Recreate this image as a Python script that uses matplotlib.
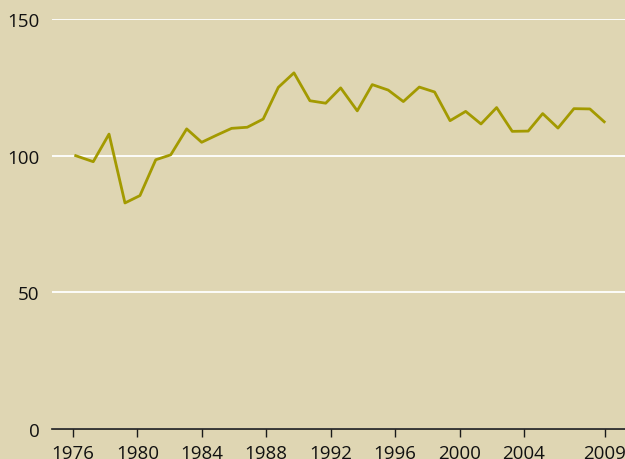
import matplotlib.pyplot as plt

# index values (35 points, 1976-2009)
years = [1976.17, 1977.26, 1978.24, 1979.23, 1980.16, 1981.14, 1982.07,
         1983.06, 1983.99, 1984.92, 1985.85, 1986.82, 1987.81, 1988.75,
         1989.72, 1990.71, 1991.69, 1992.62, 1993.65, 1994.58, 1995.57,
         1996.51, 1997.50, 1998.45, 1999.41, 2000.38, 2001.33, 2002.30,
         2003.27, 2004.26, 2005.16, 2006.11, 2007.10, 2008.09, 2008.98]
values = [100.0, 97.8, 107.9, 82.7, 85.4, 98.5, 100.3, 109.8, 104.9, 107.5,
          110.0, 110.4, 113.4, 125.0, 130.3, 120.1, 119.2, 124.8, 116.4,
          126.0, 124.0, 119.8, 125.1, 123.3, 112.8, 116.2, 111.6, 117.6,
          108.9, 109.0, 115.4, 110.1, 117.2, 117.1, 112.4]

xticks = [1976, 1980, 1984, 1988, 1992, 1996, 2000, 2004, 2009]
yticks = [0, 50, 100, 150]

bg = '#dfd6b3'
plt.rcParams['font.family'] = ['Open Sans', 'DejaVu Sans']

fig = plt.figure(figsize=(6.25, 4.6), dpi=100, facecolor=bg)
ax = fig.add_axes([0.0832, 0.0652, 0.9168, 0.8913])
ax.set_facecolor(bg)

ax.plot(years, values, color='#a39a00', linewidth=2.0, zorder=3)

ax.set_xlim(1974.70, 2010.27)
ax.set_ylim(0, 150)
ax.set_xticks(xticks)
ax.set_xticklabels([str(y) for y in xticks])
ax.set_yticks(yticks)

ax.set_axisbelow(True)
ax.grid(axis='y', color='white', linewidth=1.3)
ax.grid(axis='x', visible=False)

for side in ['top', 'right', 'left']:
    ax.spines[side].set_visible(False)
ax.spines['bottom'].set_color('#1a1a1a')
ax.spines['bottom'].set_linewidth(1.2)
ax.spines['bottom'].set_zorder(4)

ax.tick_params(axis='x', direction='out', length=6, width=1, color='#1a1a1a',
               labelsize=13.5, pad=5, labelcolor='#111111')
ax.tick_params(axis='y', length=0, labelsize=13.5, pad=9, labelcolor='#111111')

fig.savefig('out.png', dpi=100, facecolor=bg)
